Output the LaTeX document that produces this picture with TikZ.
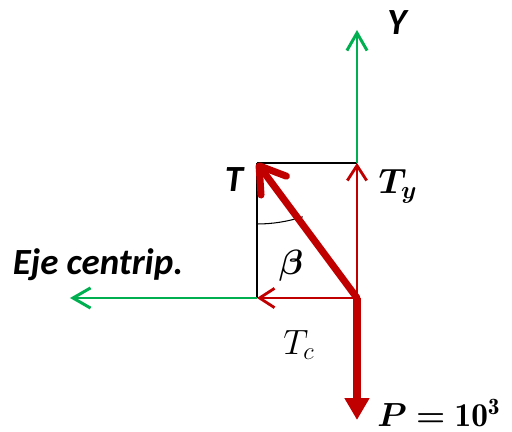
\documentclass[tikz,border=0pt]{standalone}
\usepackage{fix-cm}
\usepackage{amsmath, amssymb, bm}
\usepackage{fontspec}
\newfontfamily\carlito{Carlito}
\usepackage{tikz}
\usetikzlibrary{arrows.meta}
\definecolor{force}{RGB}{192, 0, 0}
\definecolor{axisgreen}{RGB}{0, 176, 80}

\begin{document}
\begin{tikzpicture}[
  x=0.02cm, y=-0.02cm,
  ax/.style={axisgreen, line width=1.7pt, -{Straight Barb[length=10pt, width=11.5pt]}},
  comp/.style={force, line width=1.6pt, -{Straight Barb[length=8.5pt, width=11pt]}},
  res/.style={force, line width=4pt, line cap=round, -{Straight Barb[length=14pt, width=18pt, round]}},
  load/.style={force, line width=4pt, -{Triangle[length=12.5pt, width=13.5pt]}},
  guide/.style={black, line width=0.6pt},
  sanslbl/.style={inner sep=0pt, font=\carlito\bfseries\itshape\fontsize{#1}{#1}\selectfont},
  mathlbl/.style={inner sep=0pt, font=\fontsize{#1}{#1}\selectfont},
  mathlbl/.default=20
]
\useasboundingbox (0,0) rectangle (512,432);
\coordinate (O) at (357,298);
\coordinate (A) at (257,163);
\coordinate (B) at (357,163);
\coordinate (C) at (257,298);
\coordinate (ytip) at (357,30);
\coordinate (xtip) at (70,298);
\coordinate (ptip) at (357,420);
% frame of the components
\draw[guide] (A) -- (B);
\draw[guide] (A) -- (C);
\draw[guide] (257,224) arc[start angle=90, end angle=72, radius=148];
% axes
\draw[ax] (B) -- (ytip);
\draw[ax] (C) -- (xtip);
% forces
\draw[comp] (O) -- (B);
\draw[comp] (O) -- (C);
\draw[res] (O) -- (A);
\draw[load] (O) -- (ptip);
% labels
\node[sanslbl=21] (ylbl) at (397,23) {Y};
\node[sanslbl=21] (tlbl) at (234,180) {T};
\node[sanslbl=21] (eje) at (98,265) {Eje centrip.};
\node[mathlbl] (tylbl) at (398,186) {$\boldsymbol{T_y}$};
\node[mathlbl] (beta) at (291,266) {$\boldsymbol{\beta}$};
\node[mathlbl] (tclbl) at (299,345) {$T_c$};
\node[mathlbl=19, anchor=west] (plbl) at (377,413) {$\bm{P}\mathrel{\bm{=}}\mathbf{10}^{\mathbf{3}}$};
\end{tikzpicture}
\end{document}
